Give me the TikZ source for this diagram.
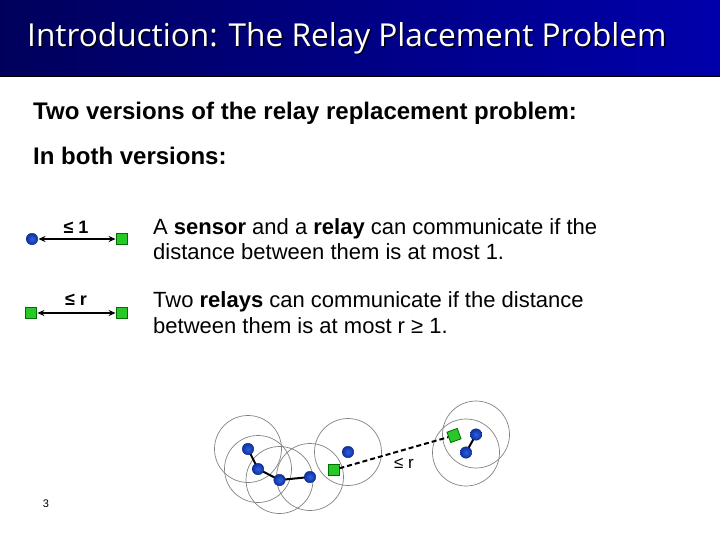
\documentclass[tikz,border=0pt]{standalone}
\usepackage{fontspec}
\setmainfont{Liberation Sans}
\newfontfamily\titlefont{Open Sans}
\usetikzlibrary{arrows.meta}
\definecolor{navyL}{RGB}{0,0,92}
\definecolor{navyR}{RGB}{0,0,172}
\definecolor{relayG}{RGB}{40,200,40}
\definecolor{relayD}{RGB}{0,110,0}
\definecolor{sensIn}{RGB}{45,95,225}
\definecolor{sensOut}{RGB}{15,50,160}
\definecolor{rangeC}{RGB}{130,130,130}
\tikzset{
  sensor/.style={circle,inner sep=0pt,minimum size=11.5pt,inner color=sensIn,outer color=sensOut,draw=sensOut!80!black,line width=0.4pt},
  relay/.style={rectangle,inner sep=0pt,minimum size=11pt,fill=relayG,draw=relayD,line width=0.8pt},
  rangecirc/.style={draw=rangeC,line width=0.7pt},
  body/.style={anchor=base west,inner sep=0pt,font=\fontsize{22}{26}\selectfont},
  head/.style={anchor=base west,inner sep=0pt,font=\bfseries\fontsize{24}{28}\selectfont},
  lbl/.style={inner sep=0pt,font=\bfseries\fontsize{18}{21}\selectfont},
  link/.style={line width=2pt,black},
  dist/.style={line width=1.2pt,black,{Stealth[length=7pt,width=6pt]}-{Stealth[length=7pt,width=6pt]},shorten <=0.5pt,shorten >=0.5pt}
}
\begin{document}
\begin{tikzpicture}[x=1pt,y=-1pt]
\useasboundingbox (0,0) rectangle (720,540);
\fill[white] (0,0) rectangle (720,540);
% title bar
\shade[left color=navyL,right color=navyR] (0,0) rectangle (720,77);
\draw[black,line width=1pt] (0,77) -- (720,77);
\node[anchor=west,inner sep=0pt,text=black!80!navyL,font=\titlefont\fontsize{31.6}{38}\selectfont] (titleshadow) at (28.5,39.5) {Introduction: The Relay Placement Problem};
\node[anchor=west,inner sep=0pt,text=white,font=\titlefont\fontsize{31.6}{38}\selectfont] (title) at (27,38) {Introduction: The Relay Placement Problem};
% body text
\node[head] (t1) at (33,119.5) {Two versions of the relay replacement problem:};
\node[head] (t2) at (33,164.5) {In both versions:};
\node[body] (t3) at (153,234) {A \textbf{sensor} and a \textbf{relay} can communicate if the};
\node[body] (t4) at (153,259.5) {distance between them is at most 1.};
\node[body] (t5) at (153,307.5) {Two \textbf{relays} can communicate if the distance};
\node[body] (t6) at (153,333) {between them is at most r ≥ 1.};
% small diagrams
\node[sensor] (s0) at (32,239) {};
\node[relay] (r0) at (122,239) {};
\draw[dist] (s0) -- (r0);
\node[lbl] (l1) at (76,227) {≤ 1};
\node[relay] (r1) at (31,313) {};
\node[relay] (r2) at (122,313) {};
\draw[dist] (r1) -- (r2);
\node[lbl] (l2) at (76,300) {≤ r};
% network example
\coordinate (pA) at (248,449);
\coordinate (pB) at (258,469);
\coordinate (pC) at (279.5,480);
\coordinate (pD) at (310,477);
\coordinate (pE) at (348,452);
\coordinate (pF) at (476,434.5);
\coordinate (pG) at (466,452.5);
\foreach \p in {pA,pB,pC,pD,pE,pF,pG} \draw[rangecirc] (\p) circle[radius=33.5];
\draw[link] (pA) -- (pB) -- (pC) -- (pD);
\draw[link] (pF) -- (pG);
\node[relay] (R1) at (333.5,470) {};
\node[relay,rotate=20] (R2) at (454,435.5) {};
\draw[link,line width=2pt,dash pattern=on 5pt off 3pt] (R1) -- (R2);
\foreach \p in {A,B,C,D,E,F,G} \node[sensor] (\p) at (p\p) {};
\node[lbl,font=\fontsize{17}{20}\selectfont] (l3) at (404,463) {≤ r};
% page number
\node[inner sep=0pt,font=\fontsize{11}{13}\selectfont] (pg) at (46,504) {3};
\end{tikzpicture}
\end{document}
